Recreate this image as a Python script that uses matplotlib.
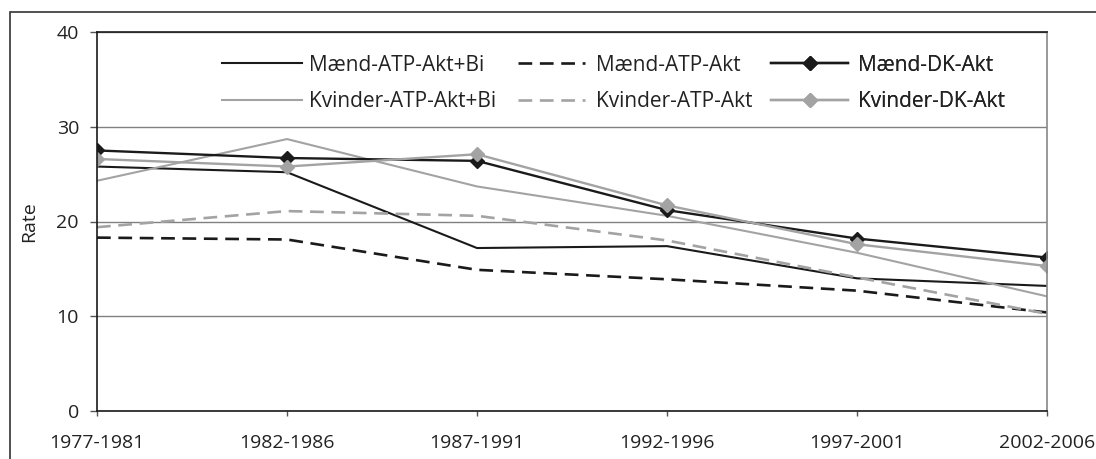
import matplotlib.pyplot as plt
from matplotlib.patches import Rectangle

plt.rcParams['font.family'] = ['Open Sans', 'DejaVu Sans']

periods = ['1977-1981', '1982-1986', '1987-1991', '1992-1996', '1997-2001', '2002-2006']

maend_atp_akt_bi = [25.8, 25.2, 17.2, 17.4, 14.0, 13.2]
kvinder_atp_akt_bi = [24.3, 28.7, 23.7, 20.6, 16.7, 12.1]
maend_atp_akt = [18.3, 18.1, 14.9, 13.9, 12.7, 10.4]
kvinder_atp_akt = [19.4, 21.1, 20.6, 18.0, 14.1, 10.25]
maend_dk_akt = [27.5, 26.7, 26.4, 21.2, 18.2, 16.2]
kvinder_dk_akt = [26.6, 25.8, 27.1, 21.7, 17.6, 15.3]

black = '#1a1a1a'
grey = '#a3a3a3'
txt = '#222222'
dash = (5.2, 2.9)

fig = plt.figure(figsize=(10.96, 4.59), dpi=100)
ax = fig.add_axes([97 / 1096, 48 / 459, 950 / 1096, 379 / 459])

x = range(len(periods))
l1, = ax.plot(x, maend_atp_akt_bi, color=black, lw=1.5, label='Mænd-ATP-Akt+Bi')
l2, = ax.plot(x, kvinder_atp_akt_bi, color=grey, lw=1.5, label='Kvinder-ATP-Akt+Bi')
l3, = ax.plot(x, maend_atp_akt, color=black, lw=1.9, dashes=dash, label='Mænd-ATP-Akt')
l4, = ax.plot(x, kvinder_atp_akt, color=grey, lw=1.9, dashes=dash, label='Kvinder-ATP-Akt')
l5, = ax.plot(x, maend_dk_akt, color=black, lw=1.7, marker='D', markersize=7.5,
              label='Mænd-DK-Akt')
l6, = ax.plot(x, kvinder_dk_akt, color=grey, lw=1.7, marker='D', markersize=7.5,
              label='Kvinder-DK-Akt')

ax.set_xlim(0, len(periods) - 1)
ax.set_ylim(0, 40)
ax.set_yticks([0, 10, 20, 30, 40])
ax.set_xticks(list(x))
ax.set_xticklabels(periods)
ax.yaxis.grid(True, color='#808080', lw=1)
ax.set_axisbelow(True)

for side in ['left', 'bottom', 'top']:
    ax.spines[side].set_color(black)
    ax.spines[side].set_linewidth(1.2)
ax.spines['right'].set_color('#888888')
ax.spines['right'].set_linewidth(1.2)

ax.tick_params(axis='y', length=5, width=1, color='#555555', pad=8,
               labelsize=14, labelcolor=txt)
ax.tick_params(axis='x', length=3.6, width=1, color='#555555', pad=13,
               labelsize=14, labelcolor=txt)
ax.set_ylabel('Rate', fontsize=14, color=txt, labelpad=13)

# one legend per column so each column sits at its own x
columns = [((l1, l2), 0.1316, 3.85, 0.34),
           ((l3, l4), 0.4432, 3.2, 0.53),
           ((l5, l6), 0.7095, 3.7, 0.48)]
for handles, xpos, hlen, hpad in columns:
    leg = ax.legend(handles=list(handles), loc='upper left',
                    bbox_to_anchor=(xpos, 0.9406), frameon=False, fontsize=15,
                    handlelength=hlen, handletextpad=hpad, labelspacing=0.75,
                    borderpad=0, borderaxespad=0)
    for t in leg.get_texts():
        t.set_color(txt)
    ax.add_artist(leg)

# frame around the whole figure
fig.patches.append(Rectangle((10 / 1096, -0.1), 1.2, 0.1 + 447 / 459,
                             transform=fig.transFigure, fill=False,
                             edgecolor='#333333', lw=1.2))

fig.savefig('out.png', dpi=100)
